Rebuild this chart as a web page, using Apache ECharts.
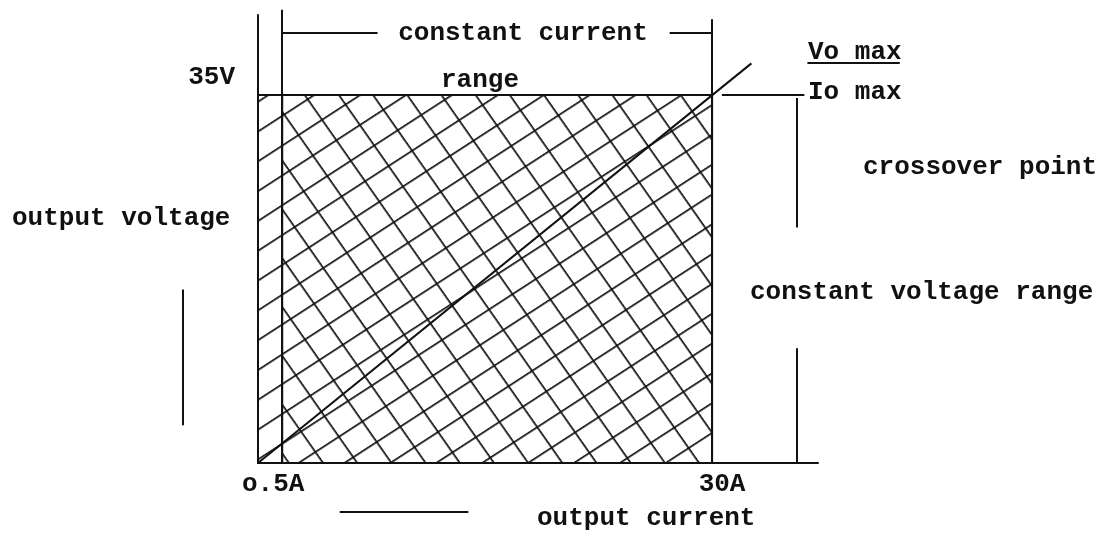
<!DOCTYPE html>
<html><head><meta charset="utf-8">
<script src="https://cdn.jsdelivr.net/npm/echarts@6/dist/echarts.min.js"></script>
<style>html,body{margin:0;padding:0;background:#fff}#c{width:1114px;height:536px}</style>
</head><body><div id="c"></div>
<script>
// ---- data (schematic units: x = output current position, y = output voltage position) ----
const currentTicks = [1.6, 30];
const currentTickLabels = ['o.5A', '30A'];
const voltageTicks = [35];
const voltageTickLabels = ['35V'];
const operatingRegion = [0, 30, 0, 35];        // x0, x1, y0, y1  (single hatch)
const constantCurrentRegion = [1.6, 30, 0, 35]; // x0, x1, y0, y1  (second hatch)
const loadLine = [[0, 0], [32.6, 38.0]];
const rangeMarks = [
  [[1.6, 0], [1.6, 43.1]],      // 0.5A marker
  [[30, 0], [30, 42.2]],        // 30A marker
  [[1.6, 40.9], [7.9, 40.9]],   // constant current bracket (left)
  [[27.2, 40.9], [30, 40.9]],   // constant current bracket (right)
  [[30.65, 35], [36.1, 35]],    // crossover tick
  [[36.3, 38.1], [42.4, 38.1]], // Vo max rule
  [[35.6, 34.7], [35.6, 22.4]], // constant voltage bracket (upper)
  [[35.6, 10.9], [35.6, 0]],    // constant voltage bracket (lower)
  [[-4.95, 16.5], [-4.95, 3.6]],// output voltage dash
  [[5.4, -4.66], [13.9, -4.66]] // output current dash
];

const FONT = "'Liberation Mono', 'DejaVu Sans Mono', monospace";
const INK = '#111';

function hatch(spacing, lineW, rotDeg) {
  const c = document.createElement('canvas');
  c.width = 8; c.height = spacing;
  const g = c.getContext('2d');
  g.fillStyle = INK;
  g.fillRect(0, 0, 8, lineW);
  return { image: c, repeat: 'repeat', rotation: rotDeg * Math.PI / 180 };
}
const hatchUp = hatch(25, 1.7, -33);
const hatchDown = hatch(28, 1.7, 55);

const chart = echarts.init(document.getElementById('c'), null, { renderer: 'canvas' });

function txt(text, x, y, align) {
  return { type: 'text', x: x, y: y, style: { text: text, font: 'bold 26px ' + FONT, fill: INK, align: align || 'left', verticalAlign: 'middle' } };
}

chart.setOption({
  animation: false,
  backgroundColor: '#fff',
  grid: { left: 258, right: 296, top: 15, bottom: 73, containLabel: false },
  xAxis: {
    type: 'value', min: 0, max: 37,
    axisLine: { lineStyle: { color: INK, width: 2 } },
    axisTick: { show: false }, splitLine: { show: false },
    axisLabel: {
      customValues: currentTicks,
      margin: 8,
      formatter: function (v) {
        const i = currentTicks.indexOf(v);
        return i === 0 ? '{a|' + currentTickLabels[0] + '}' : '{b|' + currentTickLabels[i] + '}';
      },
      rich: {
        a: { fontFamily: FONT, fontSize: 26, fontWeight: 'bold', color: INK, padding: [0, 18, 0, 0] },
        b: { fontFamily: FONT, fontSize: 26, fontWeight: 'bold', color: INK, padding: [0, 0, 0, 20] }
      }
    }
  },
  yAxis: {
    type: 'value', min: 0, max: 42.6,
    axisLine: { lineStyle: { color: INK, width: 2 } },
    axisTick: { show: false }, splitLine: { show: false },
    axisLabel: {
      customValues: voltageTicks,
      margin: 23,
      formatter: function (v) { return '{a|' + voltageTickLabels[voltageTicks.indexOf(v)] + '}'; },
      rich: { a: { fontFamily: FONT, fontSize: 26, fontWeight: 'bold', color: INK, padding: [0, 0, 34, 0] } }
    }
  },
  series: [
    {
      type: 'custom', clip: false,
      encode: { x: [0, 1], y: [2, 3] },
      data: [operatingRegion, constantCurrentRegion],
      renderItem: function (params, api) {
        const p0 = api.coord([api.value(0), api.value(3)]);
        const p1 = api.coord([api.value(1), api.value(2)]);
        return {
          type: 'rect',
          shape: { x: p0[0], y: p0[1], width: p1[0] - p0[0], height: p1[1] - p0[1] },
          style: { fill: params.dataIndex === 0 ? hatchUp : hatchDown, stroke: INK, lineWidth: 2 }
        };
      }
    },
    {
      type: 'lines', coordinateSystem: 'cartesian2d', clip: false, silent: true,
      lineStyle: { color: INK, width: 2, opacity: 1 },
      data: rangeMarks.map(function (s) { return { coords: s }; })
    },
    {
      type: 'line', data: loadLine, symbol: 'none', clip: false,
      lineStyle: { color: INK, width: 2 }
    }
  ],
  graphic: [
    txt('constant current', 523, 33, 'center'),
    txt('range', 480, 80, 'center'),
    txt('Vo max', 808, 52, 'left'),
    txt('Io max', 808, 92, 'left'),
    txt('crossover point', 863, 167, 'left'),
    txt('constant voltage range', 750, 292, 'left'),
    txt('output voltage', 12, 218, 'left'),
    txt('output current', 537, 518, 'left')
  ]
});
</script></body></html>
